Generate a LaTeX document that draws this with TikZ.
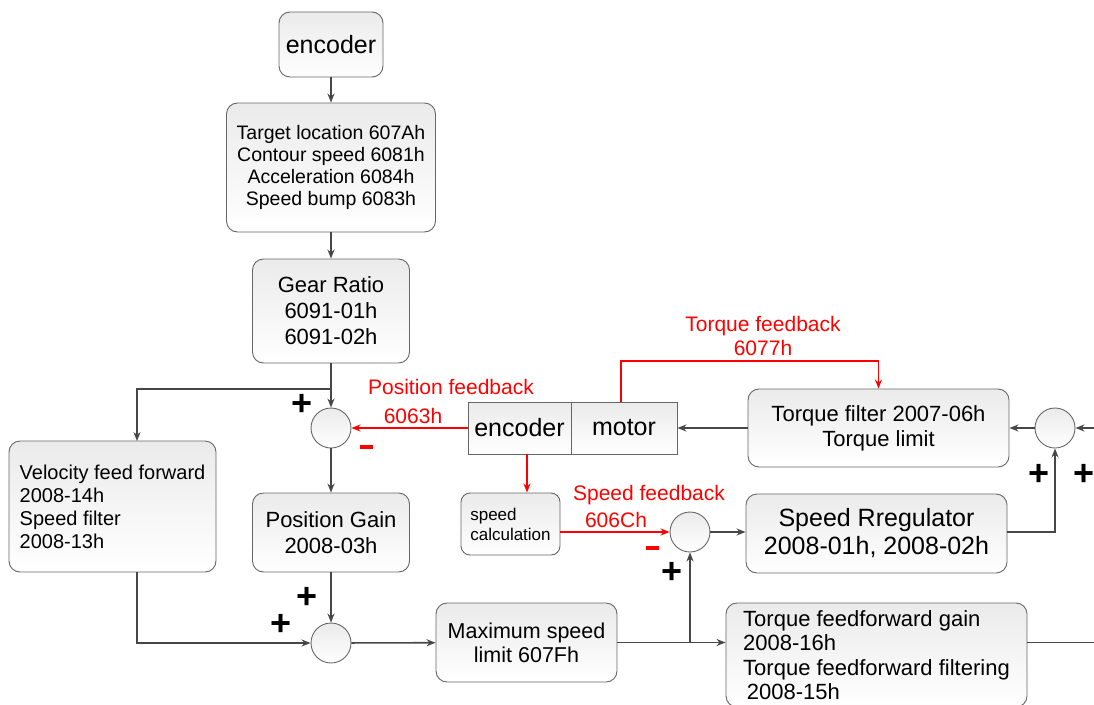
\documentclass[tikz,border=0pt]{standalone}
\usepackage{fontspec}
\setmainfont{Liberation Sans}
\usetikzlibrary{arrows.meta}

\newcommand{\fsz}[2]{\fontsize{#1}{#2}\selectfont}
\newcommand{\rminus}{\rule{13pt}{3.5pt}}

\tikzset{
  blk/.style={draw=black!60, line width=0.9pt, rounded corners=11pt, top color=black!8, bottom color=white, align=center, inner sep=0pt},
  sqbox/.style={draw=black!60, line width=0.9pt, top color=black!8, bottom color=white, inner sep=0pt},
  sumc/.style={circle, draw=black!60, line width=0.9pt, top color=black!8, bottom color=white, minimum size=40pt, inner sep=0pt},
  ln/.style={draw=black!72, line width=1.6pt, -{Stealth[length=9pt,width=7pt]}},
  rln/.style={draw=red, line width=1.6pt, -{Stealth[length=9pt,width=7pt]}},
  rlab/.style={text=red, font=\fsz{21}{23}},
  sgn/.style={font=\fsz{36}{36}\bfseries, inner sep=0pt},
}

\begin{document}
\begin{tikzpicture}[x=1pt, y=-1pt]
\useasboundingbox (0,0) rectangle (1094,704);
\clip (0,0) rectangle (1094,704);

\node[blk, minimum width=104pt, minimum height=65pt, font=\fsz{25}{28}] (enc) at (331,44.5) {encoder};
\node[blk, minimum width=209pt, minimum height=129pt, font=\fsz{19.5}{22}] (target) at (331,167.5)
  {Target location 607Ah\\Contour speed 6081h\\Acceleration 6084h\\Speed bump 6083h};
\node[blk, minimum width=157pt, minimum height=104pt, font=\fsz{22}{26}] (gear) at (331,311)
  {Gear Ratio\\6091-01h\\6091-02h};
\node[sumc] (sum1) at (331,428) {};
\node[blk, align=left, minimum width=207pt, minimum height=131pt, font=\fsz{20}{23}] (vff) at (112.5,506.5)
  {Velocity feed forward\\2008-14h\\Speed filter\\2008-13h};
\node[blk, minimum width=157pt, minimum height=79pt, font=\fsz{22}{26}] (pgain) at (331,532.5)
  {Position Gain\\2008-03h};
\node[sumc] (sum2) at (331,643) {};
\node[blk, minimum width=181pt, minimum height=79pt, font=\fsz{21.5}{24}] (maxs) at (526.5,642.5)
  {Maximum speed\\limit 607Fh};
\node[blk, align=left, minimum width=301pt, minimum height=104pt, font=\fsz{22}{24.5}] (tff) at (876.5,655)
  {Torque feedforward gain\\2008-16h\\Torque feedforward filtering\\\,2008-15h};

\node[sqbox, minimum width=103pt, minimum height=52pt, font=\fsz{25}{28}] (enc2) at (519.5,428) {encoder};
\node[sqbox, minimum width=106pt, minimum height=52pt, font=\fsz{25}{28}] (mot) at (624,428) {motor};
\node[blk, align=left, rounded corners=9pt, minimum width=99pt, minimum height=62pt, font=\fsz{17}{20}] (scalc) at (510.5,524)
  {speed\\calculation};
\node[sumc] (ssum) at (690,532) {};
\node[blk, minimum width=261pt, minimum height=78pt, font=\fsz{22}{25}] (tfilt) at (878.5,428)
  {Torque filter 2007-06h\\Torque limit};
\node[blk, minimum width=261pt, minimum height=79pt, font=\fsz{25}{28}] (sreg) at (876.5,533.5)
  {Speed Rregulator\\2008-01h, 2008-02h};
\node[sumc] (rsum) at (1055,428) {};

\coordinate (br) at (331,389);
\coordinate (vin) at (137,441);
\coordinate (jn) at (690,642.5);
\coordinate (encb) at (527,454);
\coordinate (tq) at (621,361);
\coordinate (rin) at (1100,428);
\coordinate (rout) at (1100,642.5);

\draw[ln] (enc) -- (target);
\draw[ln] (target) -- (gear);
\draw[ln] (gear) -- (sum1);
\draw[ln] (br) -| (vin);
\draw[ln] (sum1) -- (pgain);
\draw[ln] (pgain) -- (sum2);
\draw[ln] (vff.south -| vin) |- (sum2.west);
\draw[ln] (sum2) -- (maxs);
\draw[ln] (maxs.east) -- (maxs.east -| tff.west);
\draw[ln] (jn) -- (ssum);
\draw[ln] (ssum) -- (ssum -| sreg.west);
\draw[ln] (ssum -| sreg.east) -| (rsum.south);
\draw[ln] (rin) -- (rsum.east);
\draw[ln] (rsum) -- (tfilt);
\draw[ln] (tfilt) -- (mot);
\draw[draw=black!72, line width=1.6pt] (tff.east |- maxs.east) -- (rout);

\draw[rln] (enc2.west) -- (sum1.east);
\draw[rln] (encb) -- (encb |- scalc.north);
\draw[rln] (scalc.east |- ssum) -- (ssum.west);
\draw[rln] (mot.north -| tq) -- (tq) -| (tfilt.north);

\node[rlab] (tqlab) at (763,326) {Torque feedback};
\node[rlab] (tqcode) at (763,348) {6077h};
\node[rlab] (poslab) at (451,387) {Position feedback};
\node[rlab] (poscode) at (413,416) {6063h};
\node[rlab] (spdlab) at (649,495) {Speed feedback};
\node[rlab] (spdcode) at (616,520) {606Ch};

\node[text=red, inner sep=0pt] (m1) at (366,447) {\rminus};
\node[text=red, inner sep=0pt] (m2) at (652,548) {\rminus};
\node[sgn] (p1) at (302,405) {+};
\node[sgn] (p2) at (307,598) {+};
\node[sgn] (p3) at (281,625) {+};
\node[sgn] (p4) at (672,573) {+};
\node[sgn] (p5) at (1039,475) {+};
\node[sgn] (p6) at (1084,475) {+};
\end{tikzpicture}
\end{document}
